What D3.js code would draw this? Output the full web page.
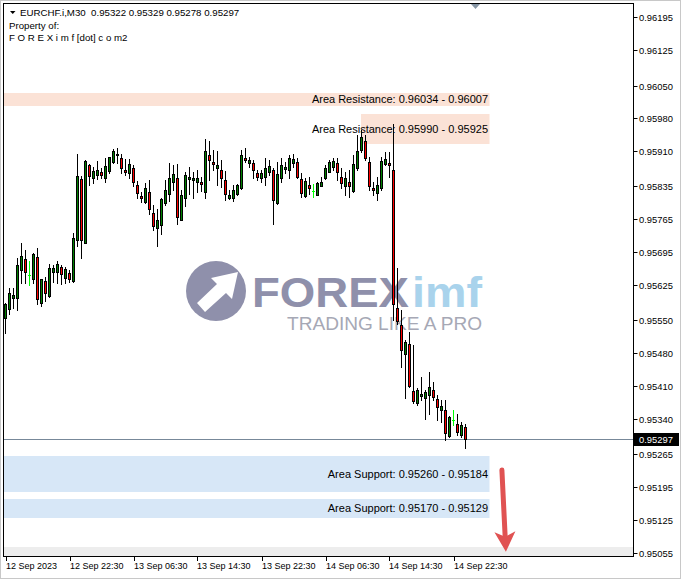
<!DOCTYPE html>
<html><head><meta charset="utf-8">
<script src="https://cdn.jsdelivr.net/npm/d3@7"></script>
<style>
body{margin:0;background:#fff;}
svg{display:block;}
text{font-family:"Liberation Sans",Arial,sans-serif;}
</style>
</head><body>
<svg id="c" width="681" height="579"></svg>
<script>
// ---------------- DATA ----------------
const symbol = "EURCHF.i,M30";
const owner1 = "Property of:";
const owner2 = "F O R E X i m f [dot] c o m2";

const open = [
0.95554,0.95574,0.95598,0.95597,0.95658,0.95680,0.95646,0.95637,0.95684,0.95586,
0.95634,0.95602,0.95653,0.95653,0.95663,0.95641,0.95650,0.95633,0.95721,0.95851,
0.95715,0.95880,0.95852,0.95860,0.95866,0.95854,0.95868,0.95887,0.95901,0.95895,
0.95870,0.95863,0.95874,0.95838,0.95815,0.95801,0.95823,0.95779,0.95747,0.95754,
0.95799,0.95818,0.95845,0.95854,0.95764,0.95810,0.95850,0.95849,0.95845,0.95844,
0.95824,0.95902,0.95887,0.95874,0.95871,0.95849,0.95811,0.95810,0.95818,0.95831,
0.95896,0.95884,0.95884,0.95863,0.95852,0.95856,0.95865,0.95870,0.95799,0.95854,
0.95872,0.95870,0.95886,0.95887,0.95850,0.95815,0.95838,0.95825,0.95817,0.95837,
0.95852,0.95866,0.95877,0.95884,0.95856,0.95835,0.95845,0.95825,0.95875,0.95912,
0.95932,0.95887,0.95831,0.95821,0.95831,0.95882,0.95886,0.95871,0.95576,0.95541,
0.95479,0.95500,0.95400,0.95373,0.95389,0.95384,0.95391,0.95401,0.95382,0.95358,
0.95360,0.95303,0.95337,0.95330,0.95305,0.95322];

const high = [
0.95586,0.95618,0.95618,0.95682,0.95714,0.95699,0.95676,0.95693,0.95705,0.95638,
0.95643,0.95670,0.95668,0.95677,0.95667,0.95663,0.95658,0.95736,0.95904,0.95857,
0.95891,0.95883,0.95877,0.95890,0.95874,0.95895,0.95898,0.95914,0.95916,0.95905,
0.95893,0.95893,0.95881,0.95847,0.95824,0.95842,0.95849,0.95795,0.95788,0.95810,
0.95849,0.95884,0.95881,0.95882,0.95828,0.95866,0.95876,0.95866,0.95870,0.95856,
0.95936,0.95931,0.95912,0.95910,0.95891,0.95868,0.95828,0.95838,0.95840,0.95912,
0.95916,0.95898,0.95891,0.95870,0.95870,0.95895,0.95891,0.95874,0.95887,0.95896,
0.95887,0.95902,0.95905,0.95895,0.95863,0.95852,0.95856,0.95840,0.95845,0.95856,
0.95881,0.95891,0.95896,0.95895,0.95874,0.95866,0.95870,0.95902,0.95944,0.95955,
0.95944,0.95898,0.95845,0.95856,0.95898,0.95909,0.95909,0.95969,0.95661,0.95572,
0.95508,0.95525,0.95497,0.95405,0.95430,0.95401,0.95440,0.95419,0.95391,0.95380,
0.95380,0.95347,0.95358,0.95350,0.95333,0.95329];

const low = [
0.95522,0.95564,0.95576,0.95571,0.95630,0.95630,0.95625,0.95630,0.95584,0.95581,
0.95592,0.95600,0.95632,0.95630,0.95627,0.95630,0.95632,0.95632,0.95708,0.95682,
0.95715,0.95839,0.95843,0.95850,0.95852,0.95845,0.95863,0.95884,0.95884,0.95864,
0.95859,0.95854,0.95835,0.95811,0.95801,0.95800,0.95777,0.95742,0.95708,0.95733,
0.95795,0.95804,0.95828,0.95756,0.95763,0.95793,0.95819,0.95811,0.95824,0.95826,
0.95810,0.95849,0.95870,0.95838,0.95833,0.95806,0.95808,0.95804,0.95816,0.95830,
0.95887,0.95877,0.95852,0.95849,0.95845,0.95838,0.95859,0.95756,0.95797,0.95845,
0.95863,0.95852,0.95877,0.95852,0.95813,0.95813,0.95820,0.95813,0.95816,0.95835,
0.95851,0.95865,0.95870,0.95849,0.95831,0.95817,0.95813,0.95823,0.95870,0.95909,
0.95891,0.95828,0.95816,0.95806,0.95828,0.95881,0.95856,0.95550,0.95543,0.95451,
0.95384,0.95409,0.95373,0.95370,0.95380,0.95339,0.95350,0.95380,0.95337,0.95333,
0.95295,0.95302,0.95326,0.95305,0.95302,0.95278];

const close = [
0.95584,0.95608,0.95604,0.95667,0.95688,0.95652,0.95646,0.95692,0.95595,0.95637,
0.95609,0.95661,0.95661,0.95669,0.95648,0.95659,0.95639,0.95726,0.95857,0.95721,
0.95889,0.95858,0.95868,0.95871,0.95860,0.95878,0.95897,0.95911,0.95904,0.95874,
0.95866,0.95883,0.95845,0.95822,0.95810,0.95831,0.95786,0.95751,0.95763,0.95808,
0.95828,0.95852,0.95861,0.95771,0.95817,0.95859,0.95856,0.95852,0.95852,0.95840,
0.95910,0.95891,0.95882,0.95881,0.95854,0.95818,0.95817,0.95828,0.95838,0.95902,
0.95891,0.95891,0.95870,0.95856,0.95864,0.95874,0.95878,0.95806,0.95861,0.95881,
0.95877,0.95895,0.95893,0.95856,0.95822,0.95847,0.95832,0.95825,0.95843,0.95845,
0.95875,0.95887,0.95890,0.95866,0.95842,0.95852,0.95835,0.95882,0.95910,0.95941,
0.95895,0.95835,0.95828,0.95838,0.95889,0.95893,0.95881,0.95584,0.95548,0.95486,
0.95504,0.95410,0.95379,0.95401,0.95393,0.95398,0.95407,0.95386,0.95365,0.95367,
0.95310,0.95345,0.95337,0.95312,0.95326,0.95297];

const timeLabels = ["12 Sep 2023","12 Sep 22:30","13 Sep 06:30","13 Sep 14:30",
                    "13 Sep 22:30","14 Sep 06:30","14 Sep 14:30","14 Sep 22:30"];
const timeLabelBars = [0,16,32,48,64,80,96,112];

const priceTicks = ["0.96195","0.96125","0.96050","0.95980","0.95910","0.95835",
  "0.95765","0.95695","0.95625","0.95550","0.95480","0.95410","0.95340",
  "0.95265","0.95195","0.95125","0.95055"];

const zoneNames  = ["Area Resistance","Area Resistance","Area Support","Area Support"];
const zoneTop    = [0.96034,0.95990,0.95260,0.95170];
const zoneBottom = [0.96007,0.95925,0.95184,0.95129];
const zoneStart  = [-2,89,-2,-2];
const zoneEnd    = [121,121,121,121];

const arrowBars   = [124.1,125.1];
const arrowPrices = [0.95231,0.95057];

// ---------------- SCALES ----------------
const svg = d3.select("#c");
const CL=4, CR=633, CT=3, CB=556;
const x = d3.scaleLinear().domain([0,157]).range([5.5,633.5]);
const y = d3.scaleLinear().domain([0.950481,0.962257]).range([CB,CT]);
const n = open.length;

// background + outer frame
svg.append("rect").attr("x",0).attr("y",0).attr("width",681).attr("height",579).attr("fill","#fff");
svg.append("rect").attr("x",0.5).attr("y",0.5).attr("width",680).attr("height",578)
  .attr("fill","none").attr("stroke","#c8c8c8");

const defs = svg.append("defs");
defs.append("clipPath").attr("id","clip").append("rect")
  .attr("x",CL).attr("y",CT).attr("width",CR-CL).attr("height",CB-CT);

const plot = svg.append("g").attr("clip-path","url(#clip)");

// ---------------- WATERMARK LOGO ----------------
const logo = plot.append("g");
const logoGray = "#8f90ab";
logo.append("circle").attr("cx",216).attr("cy",291).attr("r",30).attr("fill",logoGray);
logo.append("path").attr("fill","#fff")
  .attr("d","M197,303 L217,284 L211,278 L238,272 L232,299 L226,293 L205,312 Z");
logo.append("text").attr("x",252).attr("y",307).attr("font-family","Lato, 'Open Sans', sans-serif")
  .attr("font-weight",900).attr("font-size",43).attr("fill",logoGray)
  .attr("textLength",157).attr("lengthAdjust","spacingAndGlyphs").text("FOREX");
logo.append("text").attr("x",412).attr("y",307).attr("font-family","Lato, 'Open Sans', sans-serif")
  .attr("font-weight",700).attr("font-size",43).attr("fill","#a9d3ec")
  .attr("textLength",70).attr("lengthAdjust","spacingAndGlyphs").text("imf");
logo.append("text").attr("x",287).attr("y",330).attr("font-family","Lato, 'Open Sans', sans-serif")
  .attr("font-weight",400).attr("font-size",18).attr("fill","#a6a8b5")
  .attr("textLength",195).attr("lengthAdjust","spacingAndGlyphs").text("TRADING LIKE A PRO");

// ---------------- ZONES ----------------
const zones = zoneNames.map((nm,k)=>({nm,top:zoneTop[k],bot:zoneBottom[k],s:zoneStart[k],e:zoneEnd[k]}));
plot.selectAll("rect.zone").data(zones).join("rect").attr("class","zone")
  .attr("x",d=>Math.max(CL,x(d.s)-0.5))
  .attr("y",d=>Math.round(y(d.top)))
  .attr("width",d=>x(d.e)-Math.max(CL,x(d.s)-0.5))
  .attr("height",d=>Math.round(y(d.bot))-Math.round(y(d.top)))
  .attr("fill",d=>d.nm.includes("Resistance")?"#fbe2d6":"#d7e7f7");

// light gray band along the bottom edge
plot.append("rect").attr("x",CL).attr("y",Math.round(y(0.95068))).attr("width",CR-CL)
  .attr("height",CB-Math.round(y(0.95068))).attr("fill","#ededed");

// current price line
const last = close[n-1];
plot.append("line").attr("x1",CL).attr("x2",CR).attr("y1",Math.round(y(last))+0.5).attr("y2",Math.round(y(last))+0.5)
  .attr("stroke","#778899").attr("stroke-width",1);

// ---------------- CANDLES ----------------
const bars = open.map((o,i)=>({i,o,h:high[i],l:low[i],c:close[i]}));
const cg = plot.append("g");
const snap = v=>Math.round(v);
bars.forEach(b=>{
  const cx = x(b.i);
  const doji = b.o===b.c;
  const col = doji ? "#00ff00" : "#000";
  cg.append("line").attr("x1",cx).attr("x2",cx)
    .attr("y1",snap(y(b.h))).attr("y2",snap(y(b.l))+1)
    .attr("stroke",col).attr("stroke-width",1);
  if(doji){
    const yy = snap(y(b.o))+0.5;
    cg.append("line").attr("x1",cx-1.5).attr("x2",cx+1.5).attr("y1",yy).attr("y2",yy)
      .attr("stroke",col).attr("stroke-width",1);
  } else {
    const t = snap(y(Math.max(b.o,b.c))), bt = snap(y(Math.min(b.o,b.c)));
    cg.append("rect").attr("x",cx-1).attr("y",t+0.5).attr("width",2).attr("height",Math.max(bt-t,1))
      .attr("fill",b.c>b.o?"#008000":"#ff0000").attr("stroke","#000").attr("stroke-width",1);
  }
});

// zone labels
plot.selectAll("text.zl").data(zones).join("text").attr("class","zl")
  .attr("x",d=>x(d.e)-1.5)
  .attr("y",d=>(y(d.top)+y(d.bot))/2+4)
  .attr("text-anchor","end").attr("font-size",11).attr("fill","#000")
  .text(d=>`${d.nm}: ${d.top.toFixed(5)} - ${d.bot.toFixed(5)}`);

// arrow
{
  const x1=x(arrowBars[0]), y1=y(arrowPrices[0]), x2=x(arrowBars[1]), y2=y(arrowPrices[1]);
  const ang = Math.atan2(y2-y1,x2-x1);
  const len = Math.hypot(x2-x1,y2-y1);
  const ag = plot.append("g").attr("transform",`translate(${x1},${y1}) rotate(${ang*180/Math.PI})`);
  ag.append("line").attr("x1",0).attr("y1",0).attr("x2",len-14).attr("y2",0)
    .attr("stroke","#e05252").attr("stroke-width",5).attr("stroke-linecap","round");
  ag.append("path").attr("d",`M${len},0 L${len-20},-10.5 L${len-15},0 L${len-20},10.5 Z`).attr("fill","#e05252");
}

// ---------------- FRAME & AXES ----------------
svg.append("rect").attr("x",CL-0.5).attr("y",CT+0.5).attr("width",CR-CL+1).attr("height",CB-CT)
  .attr("fill","none").attr("stroke","#000");

// shift marker
svg.append("path").attr("d","M471,4 L480,4 L475.5,9 Z").attr("fill","#8796a5");

// price axis
const pa = svg.append("g");
priceTicks.forEach(t=>{
  const yy = Math.round(y(+t))+0.5;
  pa.append("line").attr("x1",CR+0.5).attr("x2",CR+4.5).attr("y1",yy).attr("y2",yy).attr("stroke","#000");
  pa.append("text").attr("x",639).attr("y",yy+3.3).attr("font-size",9.4).attr("fill","#000").text(t);
});
// current price tag
{
  const yy = Math.round(y(last))+0.5;
  pa.append("rect").attr("x",634).attr("y",yy-6.5).attr("width",45).attr("height",13).attr("fill","#000");
  pa.append("text").attr("x",639).attr("y",yy+3.3).attr("font-size",9.4).attr("fill","#fff").text(last.toFixed(5));
}

// time axis
const ta = svg.append("g");
timeLabelBars.forEach((bi,k)=>{
  const xx = Math.round(x(bi))+0.5;
  ta.append("line").attr("x1",xx).attr("x2",xx).attr("y1",CB+1).attr("y2",CB+5).attr("stroke","#000");
  ta.append("text").attr("x",xx-0.5).attr("y",CB+13).attr("font-size",9).attr("fill","#000").text(timeLabels[k]);
});

// ---------------- HEADER ----------------
svg.append("path").attr("d","M10,11 L15.5,11 L12.75,14 Z").attr("fill","#000");
svg.append("text").attr("x",20).attr("y",15.5).attr("font-size",9.7).attr("fill","#000")
  .text(symbol+"\u00a0\u00a0"+[open[n-1],high[n-1],low[n-1],close[n-1]].map(v=>v.toFixed(5)).join(" "));
svg.append("text").attr("x",9).attr("y",28.5).attr("font-size",9.7).attr("fill","#000").text(owner1);
svg.append("text").attr("x",9).attr("y",40.5).attr("font-size",9.7).attr("fill","#000").text(owner2);
</script>
</body></html>
